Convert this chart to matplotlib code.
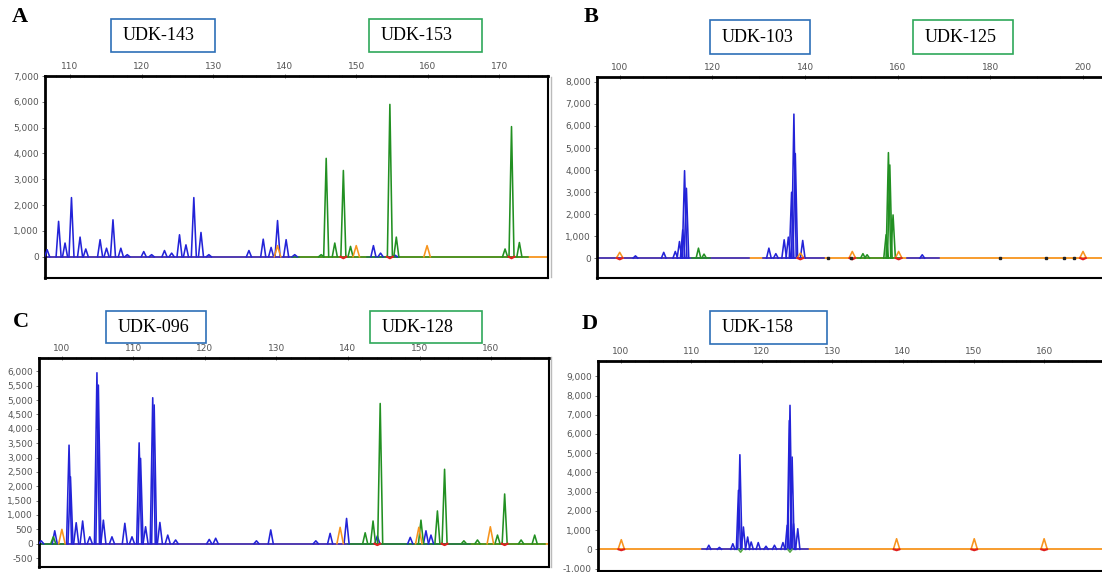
import matplotlib.pyplot as plt
from matplotlib.patches import Rectangle
from matplotlib.ticker import FuncFormatter, MultipleLocator

# peak tables: fragment size (bp) and height (RFU)

# panel A
A_BLUE_SIZE = [106.8, 108.4, 109.3, 110.2, 111.4, 112.2, 114.2, 115.1, 116.0, 117.1, 118.0,
               120.3, 121.4, 123.2, 124.2, 125.3, 126.2, 127.3, 128.3, 129.4, 135.0, 137.0,
               138.1, 139.0, 140.2, 141.4, 152.4, 153.4, 155.4]
A_BLUE_HEIGHT = [270, 1370, 530, 2290, 760, 300, 660, 330, 1430, 330, 80,
                 200, 80, 240, 140, 850, 460, 2290, 940, 80, 240, 680,
                 360, 1400, 660, 80, 430, 140, 60]
A_GREEN_SIZE = [145.1, 145.8, 147.0, 148.2, 149.2, 154.7, 155.6, 170.8, 171.7, 172.8]
A_GREEN_HEIGHT = [80, 3810, 530, 3340, 400, 5900, 760, 300, 5040, 550]
A_ORANGE_SIZE = [139.0, 150.0, 159.9]
A_ORANGE_HEIGHT = [430, 430, 430]
A_RED_SIZE = [148.2, 154.7, 171.7]
A_RED_HEIGHT = [-60, -60, -60]
A_BLUE_SPANS = [(106.5, 142.0), (151.5, 156.0)]
A_GREEN_SPANS = [(141.0, 174.0)]

# panel B
B_BLUE_SIZE = [103.4, 109.5, 112.0, 112.9, 113.6, 114.0, 114.4, 132.2, 133.7, 135.5,
               136.4, 137.1, 137.6, 137.9, 139.5, 165.3]
B_BLUE_HEIGHT = [100, 260, 300, 750, 1280, 3970, 3170, 450, 200, 830,
                 950, 2990, 6540, 4750, 800, 150]
B_GREEN_SIZE = [117.0, 118.2, 152.5, 153.4, 157.5, 158.0, 158.3, 159.0]
B_GREEN_HEIGHT = [450, 180, 200, 150, 1060, 4790, 4230, 1960]
B_ORANGE_SIZE = [100.0, 139.0, 150.2, 160.2, 200.0]
B_ORANGE_HEIGHT = [260, 230, 300, 300, 300]
B_RED_SIZE = [100.0, 139.0, 150.2, 160.2, 200.0]
B_RED_HEIGHT = [-60, -60, -60, -60, -60]
B_BLACK_SIZE = [145.0, 150.0, 182.0, 192.0, 196.0, 198.0]
B_BLUE_SPANS = [(95.1, 128.0), (131.0, 144.0), (162.0, 169.0)]
B_GREEN_SPANS = [(115.5, 119.5), (151.0, 161.0)]

# panel C
C_BLUE_SIZE = [97.1, 99.0, 101.0, 101.2, 102.0, 102.9, 103.9, 104.9, 105.1, 105.8, 107.0,
               108.8, 109.8, 110.8, 111.0, 111.7, 112.7, 112.9, 113.7, 114.8, 115.9, 120.6,
               121.5, 127.2, 129.2, 135.5, 137.5, 139.8, 144.1, 148.7, 150.9, 151.6]
C_BLUE_HEIGHT = [100, 450, 3430, 2330, 730, 790, 240, 5950, 5520, 820, 240,
                 710, 240, 3510, 2970, 590, 5080, 4830, 740, 300, 130, 150,
                 190, 100, 480, 100, 360, 880, 270, 220, 450, 300]
C_GREEN_SIZE = [98.8, 142.4, 143.5, 144.5, 150.2, 152.5, 153.5, 156.2, 158.1, 160.9,
                161.9, 164.2, 166.1]
C_GREEN_HEIGHT = [240, 380, 790, 4880, 820, 1140, 2590, 100, 130, 300,
                  1730, 130, 300]
C_ORANGE_SIZE = [100.0, 138.9, 149.9, 159.9]
C_ORANGE_HEIGHT = [500, 570, 570, 590]
C_RED_SIZE = [144.1, 153.5, 161.9]
C_RED_HEIGHT = [-50, -50, -50]
C_BLUE_SPANS = [(96.8, 157.0)]
C_GREEN_SPANS = [(96.8, 100.5), (140.0, 167.5)]

# panel D
D_BLUE_SIZE = [112.5, 114.0, 115.9, 116.7, 116.9, 117.4, 118.0, 118.5, 119.5, 120.6,
               121.8, 123.0, 123.6, 123.9, 124.0, 124.3, 124.5, 125.1]
D_BLUE_HEIGHT = [210, 100, 290, 3070, 4920, 1160, 640, 380, 350, 160,
                 210, 350, 1250, 6700, 7490, 4800, 1330, 1070]
D_GREEN_SIZE = [117.0, 124.0]
D_GREEN_HEIGHT = [-150, -150]
D_ORANGE_SIZE = [100.1, 139.1, 150.1, 160.0]
D_ORANGE_HEIGHT = [500, 550, 550, 550]
D_RED_SIZE = [100.1, 139.1, 150.1, 160.0]
D_RED_HEIGHT = [-50, -50, -50, -50]
D_BLUE_SPANS = [(111.5, 126.5)]

BLUE = "#2323d8"
GREEN = "#229022"
ORANGE = "#f7941d"
RED = "#e02020"

W, H = 1102, 572


def fig_rect(left, top, right, bottom):
    return [left / W, 1 - bottom / H, (right - left) / W, (bottom - top) / H]


def draw_peaks(ax, sizes, heights, color, hw, lw=1.15, z=3):
    for s, h in zip(sizes, heights):
        ax.plot([s - hw, s, s + hw], [0, h, 0], color=color, lw=lw, zorder=z)


def draw_spans(ax, spans, color, z=2.5):
    for a, b in spans:
        ax.plot([a, b], [0, 0], color=color, lw=1.1, zorder=z)


def setup_axes(rect, xlim, ylim, xmajor, xminor, ymajor):
    ax = fig.add_axes(fig_rect(*rect))
    ax.set_xlim(*xlim)
    ax.set_ylim(*ylim)
    ax.xaxis.set_major_locator(MultipleLocator(xmajor))
    ax.xaxis.set_minor_locator(MultipleLocator(xminor))
    ax.yaxis.set_major_locator(MultipleLocator(ymajor))
    ax.yaxis.set_major_formatter(FuncFormatter(lambda v, _: f"{v:,.0f}"))
    ax.tick_params(axis="x", which="both", top=True, bottom=False, labeltop=True,
                   labelbottom=False, direction="inout", length=3, width=0.7,
                   labelsize=6.5, labelcolor="#555555", color="#777777", pad=2)
    ax.tick_params(axis="x", which="minor", length=2)
    ax.tick_params(axis="y", direction="out", length=2.5, width=0.7, labelsize=6.5,
                   labelcolor="#555555", color="#777777", pad=2)
    for side in ["left", "top"]:
        ax.spines[side].set_linewidth(2.0)
    for side in ["right", "bottom"]:
        ax.spines[side].set_linewidth(1.5)
    ax.axhline(0, color=ORANGE, lw=1.3, zorder=2)
    return ax


def label_box(left, top, right, bottom, text, edge):
    fig.add_artist(Rectangle((left / W, 1 - bottom / H), (right - left) / W,
                             (bottom - top) / H, transform=fig.transFigure,
                             fill=False, edgecolor=edge, lw=1.2))
    fig.text((left + 12) / W, 1 - (top + bottom) / 2 / H, text, ha="left", va="center",
             fontsize=13, family="Liberation Serif")


fig = plt.figure(figsize=(11.02, 5.72), dpi=100)

# A
ax = setup_axes((45, 76, 548, 278), (106.5, 176.8), (-824, 7000), 10, 2, 1000)
ax.set_yticks(range(0, 7001, 1000))
draw_spans(ax, A_BLUE_SPANS, BLUE)
draw_spans(ax, A_GREEN_SPANS, GREEN)
draw_peaks(ax, A_BLUE_SIZE, A_BLUE_HEIGHT, BLUE, 0.35)
draw_peaks(ax, A_GREEN_SIZE, A_GREEN_HEIGHT, GREEN, 0.35)
draw_peaks(ax, A_ORANGE_SIZE, A_ORANGE_HEIGHT, ORANGE, 0.45, z=4)
draw_peaks(ax, A_RED_SIZE, A_RED_HEIGHT, RED, 0.4, lw=1.5, z=4)

# B
ax = setup_axes((597, 77, 1102, 278), (95.1, 204.1), (-906, 8226), 20, 5, 1000)
ax.set_yticks(range(0, 8001, 1000))
ax.spines["right"].set_visible(False)
draw_spans(ax, B_BLUE_SPANS, BLUE)
draw_spans(ax, B_GREEN_SPANS, GREEN)
draw_peaks(ax, B_BLUE_SIZE, B_BLUE_HEIGHT, BLUE, 0.5)
draw_peaks(ax, B_GREEN_SIZE, B_GREEN_HEIGHT, GREEN, 0.5)
draw_peaks(ax, B_ORANGE_SIZE, B_ORANGE_HEIGHT, ORANGE, 0.7, z=4)
draw_peaks(ax, B_RED_SIZE, B_RED_HEIGHT, RED, 0.6, lw=1.5, z=4)
ax.plot(B_BLACK_SIZE, [0] * len(B_BLACK_SIZE), "s", ms=1.6, color="#222222", zorder=5)

# C
ax = setup_axes((39, 358, 549, 567), (96.8, 168.1), (-811, 6463), 10, 2, 500)
draw_spans(ax, C_BLUE_SPANS, BLUE)
draw_spans(ax, C_GREEN_SPANS, GREEN)
draw_peaks(ax, C_BLUE_SIZE, C_BLUE_HEIGHT, BLUE, 0.35)
draw_peaks(ax, C_GREEN_SIZE, C_GREEN_HEIGHT, GREEN, 0.35)
draw_peaks(ax, C_ORANGE_SIZE, C_ORANGE_HEIGHT, ORANGE, 0.45, z=4)
draw_peaks(ax, C_RED_SIZE, C_RED_HEIGHT, RED, 0.4, lw=1.5, z=4)

# D
ax = setup_axes((598, 361, 1102, 571), (96.8, 168.2), (-1129, 9796), 10, 2, 1000)
ax.spines["right"].set_visible(False)
draw_spans(ax, D_BLUE_SPANS, BLUE)
draw_peaks(ax, D_BLUE_SIZE, D_BLUE_HEIGHT, BLUE, 0.3)
draw_peaks(ax, D_GREEN_SIZE, D_GREEN_HEIGHT, "#55aa44", 0.3)
draw_peaks(ax, D_ORANGE_SIZE, D_ORANGE_HEIGHT, ORANGE, 0.45, z=4)
draw_peaks(ax, D_RED_SIZE, D_RED_HEIGHT, RED, 0.4, lw=1.5, z=4)

# faint separators left of B and D
for top, bottom in [(77, 277), (357, 567)]:
    fig.add_artist(plt.Line2D([551 / W, 551 / W], [1 - top / H, 1 - bottom / H],
                              transform=fig.transFigure, color="#bbbbbb", lw=1.0))

# panel letters
for x, y, letter in [(12, 17, "A"), (584, 17, "B"), (13, 322, "C"), (582, 324, "D")]:
    fig.text(x / W, 1 - y / H, letter, ha="left", va="center", fontsize=16,
             fontweight="bold", family="Liberation Serif")

# locus boxes
BOX_BLUE = "#2e6fb7"
BOX_GREEN = "#2fa85a"
label_box(111, 19, 215, 52, "UDK-143", BOX_BLUE)
label_box(369, 19, 482, 52, "UDK-153", BOX_GREEN)
label_box(710, 20, 810, 54, "UDK-103", BOX_BLUE)
label_box(913, 20, 1013, 54, "UDK-125", BOX_GREEN)
label_box(106, 311, 206, 343, "UDK-096", BOX_BLUE)
label_box(370, 311, 482, 343, "UDK-128", BOX_GREEN)
label_box(710, 311, 827, 344, "UDK-158", BOX_BLUE)

fig.savefig("out.png", dpi=100)
